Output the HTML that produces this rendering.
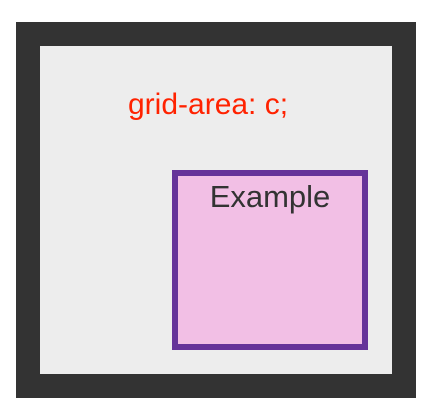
<!DOCTYPE html>
<html><head><meta charset="utf-8"><style>
html,body{margin:0;padding:0;background:#fff;width:434px;height:410px;overflow:hidden;font-family:"Liberation Sans",Arial,sans-serif}
.outer{position:absolute;left:16px;top:22px;width:400px;height:376px;background:#333}
.inner{position:absolute;left:40px;top:46px;width:352px;height:328px;background:#ededed}
.label{position:absolute;left:128px;top:87px;font-size:30px;color:#ff2200;white-space:nowrap;line-height:36px}
.ex{position:absolute;left:172px;top:170px;width:184px;height:168px;border:6px solid #663399;background:#f2bfe5}
.ex span{position:absolute;left:0;right:0;top:3px;text-align:center;font-size:31px;color:#333;line-height:36px}
</style></head><body>
<div class="outer"></div>
<div class="inner"></div>
<div class="label">grid-area: c;</div>
<div class="ex"><span>Example</span></div>
</body></html>
